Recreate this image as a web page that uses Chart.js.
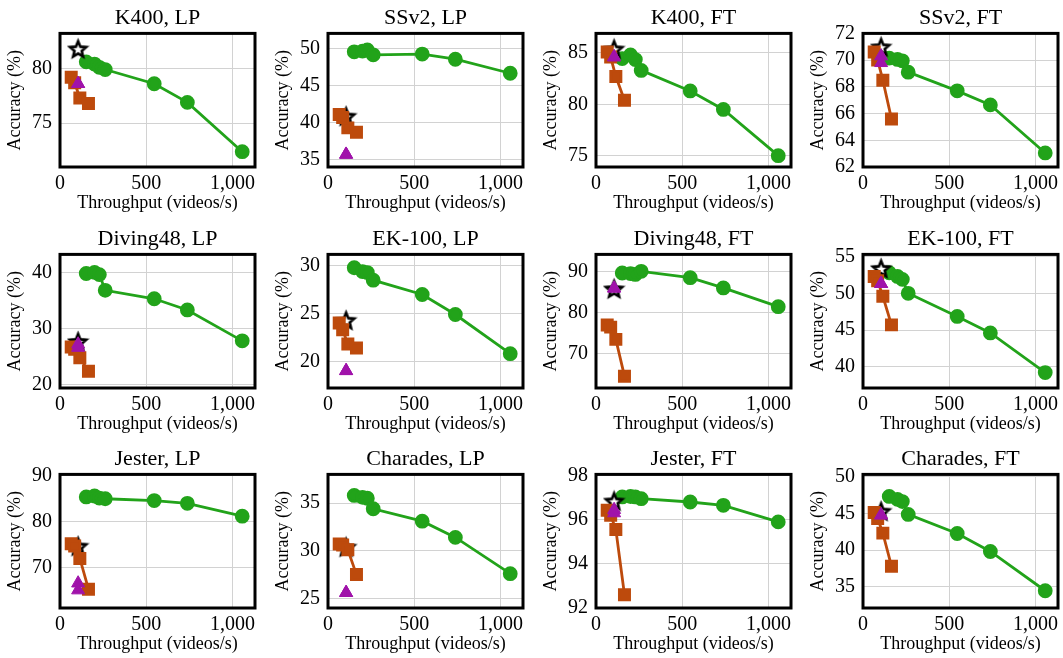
<!DOCTYPE html>
<html lang="en">
<head>
<meta charset="UTF-8">
<title>Accuracy vs throughput</title>
<script src="https://cdn.jsdelivr.net/npm/chart.js@4.4.0/dist/chart.umd.min.js"></script>
<style>
  body { margin: 0; background: #fff; width: 1063px; height: 658px; overflow: hidden; position: relative; }
  .cell { position: absolute; width: 265px; height: 220px; }
</style>
</head>
<body>
<script>
// panel titles, row by row
const titles = ['K400, LP', 'SSv2, LP', 'K400, FT', 'SSv2, FT',
                'Diving48, LP', 'EK-100, LP', 'Diving48, FT', 'EK-100, FT',
                'Jester, LP', 'Charades, LP', 'Jester, FT', 'Charades, FT'];

// throughput (videos/s) of each model, the same in every panel
const greenX = [152, 200, 228, 262, 546, 738, 1056];
const orangeX = [65, 85, 115, 165];
const purpleX = [105, 105];
const starX = [105];

// accuracy (%) per panel
const greenAcc = [
  [80.6, 80.4, 80.1, 79.9, 78.6, 76.9, 72.4],
  [49.6, 49.7, 49.85, 49.2, 49.3, 48.6, 46.7],
  [84.45, 84.8, 84.35, 83.3, 81.3, 79.5, 75.0],
  [70.15, 70.05, 69.95, 69.1, 67.7, 66.65, 63.05],
  [39.8, 40.0, 39.6, 36.8, 35.3, 33.3, 27.8],
  [29.8, 29.4, 29.3, 28.5, 27.0, 24.9, 20.8],
  [89.75, 89.6, 89.4, 90.15, 88.6, 86.1, 81.5],
  [52.8, 52.3, 51.9, 50.0, 46.85, 44.6, 39.2],
  [85.4, 85.6, 85.15, 85.0, 84.6, 84.0, 81.2],
  [35.8, 35.6, 35.5, 34.4, 33.1, 31.4, 27.6],
  [97.03, 97.05, 97.03, 96.95, 96.8, 96.65, 95.9],
  [47.3, 46.9, 46.6, 44.85, 42.25, 39.8, 34.45]
];
const orangeAcc = [
  [79.2, 78.7, 77.3, 76.8],
  [41.1, 40.7, 39.3, 38.7],
  [85.1, 84.6, 82.7, 80.4],
  [70.6, 70.0, 68.5, 65.6],
  [26.7, 26.3, 24.8, 22.4],
  [24.0, 23.3, 21.8, 21.4],
  [77.0, 76.5, 73.5, 64.5],
  [52.3, 51.7, 49.6, 45.7],
  [75.2, 74.7, 72.0, 65.3],
  [30.7, 30.6, 30.1, 27.5],
  [96.43, 96.2, 95.55, 92.6],
  [45.1, 44.3, 42.3, 37.8]
];
const purpleAcc = [
  [78.6, 78.6], [35.7, 35.7], [84.6, 84.6], [70.3, 69.8],
  [27.2, 26.6], [19.0, 19.0], [86.0, 86.0], [51.3, 51.3],
  [66.6, 65.1], [25.6, 25.6], [96.45, 96.3], [44.75, 44.75]
];
const starAcc = [81.8, 40.9, 85.4, 71.0, 27.7, 24.3, 85.9, 53.4, 74.7, 30.4, 96.85, 45.3];

// y axis range and ticks per panel
const yMin = [71, 34, 73.9, 62, 19.4, 17.2, 61.6, 37.1, 61.2, 24, 92, 32.1];
const yMax = [83.2, 52.1, 86.9, 72, 43.2, 31.2, 94.3, 55.3, 90.3, 38, 98.05, 50.3];
const yTicks = [
  [75, 80], [35, 40, 45, 50], [75, 80, 85], [62, 64, 66, 68, 70, 72],
  [20, 30, 40], [20, 25, 30], [70, 80, 90], [40, 45, 50, 55],
  [70, 80, 90], [25, 30, 35], [92, 94, 96, 98], [35, 40, 45, 50]
];
const xTicks = [0, 500, 1000];

const colLeft = [0, 268, 536, 803];
const rowTop = [0, 221, 441];

const GREEN = '#22a31a';
const ORANGE = '#bd4a0c';
const PURPLE = '#a013aa';
const serif = '"Liberation Serif", "DejaVu Serif", serif';

Chart.defaults.font.family = serif;
Chart.defaults.color = '#000';

// five-pointed star marker, white inside with black outline
function makeStar(r) {
  const size = Math.ceil(2 * r + 6);
  const cv = document.createElement('canvas');
  cv.width = size; cv.height = size;
  const g = cv.getContext('2d');
  g.beginPath();
  for (let k = 0; k < 10; k++) {
    const rad = k % 2 ? r * 0.45 : r;
    const a = -Math.PI / 2 + k * Math.PI / 5;
    g.lineTo(size / 2 + rad * Math.cos(a), size / 2 + 1 + rad * Math.sin(a));
  }
  g.closePath();
  g.fillStyle = '#fff';
  g.fill();
  g.lineWidth = 2.6;
  g.strokeStyle = '#000';
  g.stroke();
  return cv;
}
const starMark = makeStar(8.5);

// thick frame round the plot area
const frame = {
  id: 'frame',
  beforeDatasetsDraw(chart) {
    const a = chart.chartArea, c = chart.ctx;
    c.save();
    c.lineWidth = 3;
    c.strokeStyle = '#000';
    c.strokeRect(a.left, a.top, a.right - a.left, a.bottom - a.top);
    c.restore();
  }
};

function pts(xs, ys) {
  return xs.map((x, k) => ({ x: x, y: ys[k] }));
}

titles.forEach((t, i) => {
  const div = document.createElement('div');
  div.className = 'cell';
  div.style.left = colLeft[i % 4] + 'px';
  div.style.top = rowTop[Math.floor(i / 4)] + 'px';
  const cv = document.createElement('canvas');
  cv.width = 265; cv.height = 220;
  div.appendChild(cv);
  document.body.appendChild(div);

  new Chart(cv, {
    type: 'scatter',
    data: {
      datasets: [
        { data: pts(purpleX, purpleAcc[i]), pointStyle: 'triangle', pointRadius: 7.5,
          backgroundColor: PURPLE, borderColor: PURPLE, borderWidth: 1, showLine: false, clip: false },
        { data: pts(orangeX, orangeAcc[i]), pointStyle: 'rect', pointRadius: 7.2,
          backgroundColor: ORANGE, borderColor: ORANGE, borderWidth: 2.8, showLine: true, clip: false },
        { data: pts(starX, [starAcc[i]]), pointStyle: starMark, showLine: false, clip: false },
        { data: pts(greenX, greenAcc[i]), pointStyle: 'circle', pointRadius: 6,
          backgroundColor: GREEN, borderColor: GREEN, borderWidth: 2.8, showLine: true, clip: false }
      ]
    },
    options: {
      responsive: false,
      animation: false,
      events: [],
      layout: { padding: { left: 0, right: 7, top: 0, bottom: 0 } },
      plugins: {
        legend: { display: false },
        tooltip: { enabled: false },
        title: {
          display: true, text: t, fullSize: false, color: '#000',
          font: { family: serif, size: 22, weight: 'normal' },
          padding: { top: 5, bottom: 2 }
        }
      },
      scales: {
        x: {
          type: 'linear', min: 0, max: 1130,
          afterBuildTicks: s => { s.ticks = xTicks.map(v => ({ value: v })); },
          afterFit: s => { s.height = 53; },
          grid: { color: '#d2d2d2', lineWidth: 1, drawTicks: false },
          border: { display: false },
          ticks: { padding: 5, maxRotation: 0, autoSkip: false, color: '#000', font: { size: 20 },
                   callback: v => v.toLocaleString('en-US') },
          title: { display: true, text: 'Throughput (videos/s)', color: '#000',
                   font: { size: 18 }, padding: { top: 0, bottom: 6 } }
        },
        y: {
          type: 'linear', min: yMin[i], max: yMax[i],
          afterBuildTicks: s => { s.ticks = yTicks[i].map(v => ({ value: v })); },
          afterFit: s => { s.width = 60; },
          grid: { color: '#d2d2d2', lineWidth: 1, drawTicks: false },
          border: { display: false },
          ticks: { padding: 8, autoSkip: false, color: '#000', font: { size: 20 } },
          title: { display: true, text: 'Accuracy (%)', color: '#000',
                   font: { size: 18 }, padding: { top: 4, bottom: 0 } }
        }
      }
    },
    plugins: [frame]
  });
});
</script>
</body>
</html>
